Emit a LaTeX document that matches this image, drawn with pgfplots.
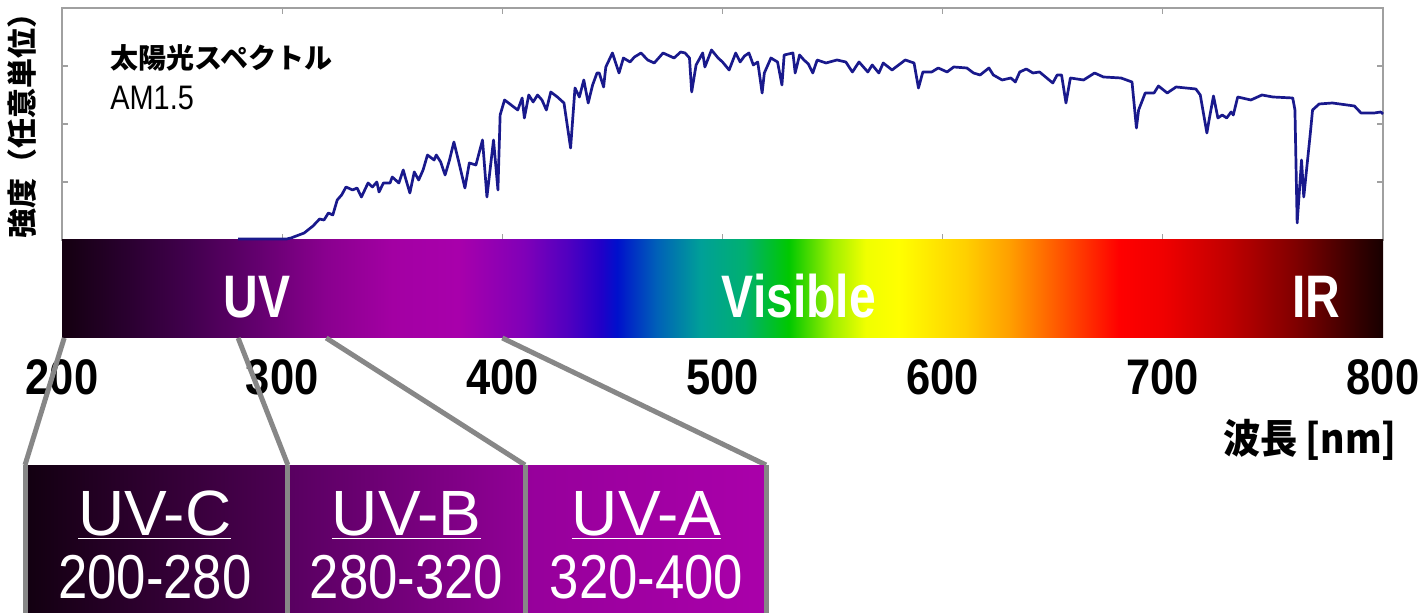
\documentclass[border=0pt]{standalone}
\usepackage{fontspec}
\setmainfont{Liberation Sans}
\newfontfamily\jp{Noto Sans CJK JP}
\usepackage{pgfplots}
\pgfplotsset{compat=1.18}

\definecolor{specline}{RGB}{25,25,140}
\definecolor{framegray}{RGB}{160,160,160}
\definecolor{linkgray}{RGB}{135,135,135}

\pgfdeclarehorizontalshading{spectrum}{100bp}{
 rgb(0bp)=(0.078,0,0.063);
 rgb(25bp)=(0.078,0,0.063);
 rgb(27.5bp)=(0.165,0,0.188);
 rgb(30bp)=(0.267,0,0.314);
 rgb(32.5bp)=(0.396,0,0.439);
 rgb(35bp)=(0.541,0,0.561);
 rgb(37.5bp)=(0.639,0,0.639);
 rgb(40bp)=(0.659,0,0.671);
 rgb(42.5bp)=(0.502,0,0.722);
 rgb(44.1667bp)=(0.314,0,0.753);
 rgb(45.4167bp)=(0.125,0,0.784);
 rgb(46bp)=(0,0.063,0.8);
 rgb(47.5bp)=(0,0.376,0.722);
 rgb(49.1667bp)=(0,0.627,0.596);
 rgb(50.8333bp)=(0,0.69,0.439);
 rgb(52.5bp)=(0,0.784,0);
 rgb(54.1667bp)=(0.627,0.941,0);
 rgb(55.4167bp)=(0.941,1,0);
 rgb(56.6667bp)=(1,1,0);
 rgb(59.1667bp)=(1,0.816,0);
 rgb(60.8333bp)=(1,0.627,0);
 rgb(62.5bp)=(1,0.376,0);
 rgb(64.1667bp)=(1,0.125,0);
 rgb(65bp)=(1,0,0);
 rgb(66.6667bp)=(0.941,0,0);
 rgb(69.1667bp)=(0.753,0,0);
 rgb(71.6667bp)=(0.502,0,0);
 rgb(74.1667bp)=(0.188,0,0);
 rgb(75bp)=(0.094,0,0);
 rgb(100bp)=(0.094,0,0)}

\begin{document}
\begin{tikzpicture}[x=0.5pt,y=0.5pt]
\path[use as bounding box] (0,0) rectangle (1427,613);
\begin{axis}[
  at={(31pt,186.5pt)}, anchor=south west,
  scale only axis, width=660.5pt, height=116pt,
  xmin=200, xmax=800, ymin=0, ymax=232,
  clip=false,
  axis line style={framegray, line width=1pt},
  tick align=inside,
  xtick={200,300,400,500,600,700,800},
  xticklabels={200,300,400,500,600,700,800},
  ytick={58,116,174}, yticklabels={},
  major tick length=3pt,
  tick style={framegray, line width=0.6pt},
  xticklabel style={font=\fontsize{25}{25}\selectfont\bfseries, anchor=center, yshift=-68.5pt, xscale=0.87},
  xlabel={\jp\bfseries 波長 [nm]},
  xlabel style={at={(rel axis cs:0.9447,-0.862)}, anchor=center, font=\fontsize{20}{20}\selectfont, xscale=0.93},
  ylabel={\jp\bfseries 強度（任意単位）},
  ylabel style={at={(rel axis cs:-0.0303,0.525)}, anchor=center, font=\fontsize{15}{15}\selectfont},
]
% colour bar
\shade[shading=spectrum] (axis cs:200,0) rectangle (axis cs:800,-98);
\node[white, anchor=base, font=\fontsize{30}{30}\selectfont\bfseries, xscale=0.8] at (axis cs:288.6,-78) {UV};
\node[white, anchor=base, font=\fontsize{30}{30}\selectfont\bfseries, xscale=0.8] at (axis cs:534.7,-78) {Visible};
\node[white, anchor=base, font=\fontsize{30}{30}\selectfont\bfseries, xscale=0.8] at (axis cs:769.6,-78) {IR};

% connector lines
\draw[linkgray, line width=2.5pt] (axis cs:201,-98) -- (axis cs:183.2,-225);
\draw[linkgray, line width=2.5pt] (axis cs:280,-98) -- (axis cs:302.6,-225);
\draw[linkgray, line width=2.5pt] (axis cs:320,-98) -- (axis cs:410.3,-225);
\draw[linkgray, line width=2.5pt] (axis cs:400,-98) -- (axis cs:519.8,-225);

% UV sub boxes
\shade[left color={rgb,255:red,18;green,0;blue,16}, right color={rgb,255:red,78;green,0;blue,84}] (axis cs:183.2,-225) rectangle (axis cs:302.6,-380);
\shade[left color={rgb,255:red,88;green,0;blue,96}, right color={rgb,255:red,145;green,0;blue,150}] (axis cs:302.6,-225) rectangle (axis cs:410.3,-380);
\shade[left color={rgb,255:red,150;green,0;blue,155}, right color={rgb,255:red,170;green,0;blue,170}] (axis cs:410.3,-225) rectangle (axis cs:519.8,-380);
\draw[linkgray, line width=2.5pt] (axis cs:183.2,-225) -- (axis cs:183.2,-380);
\draw[linkgray, line width=2.5pt] (axis cs:302.6,-225) -- (axis cs:302.6,-380);
\draw[linkgray, line width=2.5pt] (axis cs:410.3,-225) -- (axis cs:410.3,-380);
\draw[linkgray, line width=2.5pt] (axis cs:519.8,-225) -- (axis cs:519.8,-380);
\node[white, anchor=base, font=\fontsize{32}{32}\selectfont] at (axis cs:242.2,-295) {\underline{UV-C}};
\node[white, anchor=base, font=\fontsize{32}{32}\selectfont] at (axis cs:356.5,-295) {\underline{UV-B}};
\node[white, anchor=base, font=\fontsize{32}{32}\selectfont] at (axis cs:465.5,-295) {\underline{UV-A}};
\node[white, anchor=base, font=\fontsize{31}{31}\selectfont, xscale=0.85] at (axis cs:242.2,-358) {200-280};
\node[white, anchor=base, font=\fontsize{31}{31}\selectfont, xscale=0.85] at (axis cs:356.5,-358) {280-320};
\node[white, anchor=base, font=\fontsize{31}{31}\selectfont, xscale=0.85] at (axis cs:465.5,-358) {320-400};

% title
\node[anchor=west, inner sep=0pt, font=\fontsize{14}{14}\selectfont\jp\bfseries] at (axis cs:221.8,182) {太陽光スペクトル};
\node[anchor=west, inner sep=0pt, font=\fontsize{17}{17}\selectfont, xscale=0.85] at (axis cs:221.8,142) {AM1.5};

\addplot[specline, line width=1.35pt, line join=round] coordinates {
(280,1) (300,1) (302,1) (304,2) (310,7) (314,14) (317,21) (319,20) (321,27) (323,25) (325,40) (327,45) (329,53) (332,50) (334,52) (336,43) (339,57) (341,53) (343,58) (344,48) (346,57) (349,57) (350,63) (353,57) (355,70) (356,62) (358,47) (360,68) (362,60) (364,70) (366,85) (369,80) (370,85) (372,78) (374,65) (376,80) (378,98) (380,80) (383,52) (385,77) (388,75) (391,100) (393,43) (396,100) (398,50) (399,125) (401,140) (404,135) (407,130) (409,142) (410,122) (412,145) (414,138) (416,145) (418,140) (420,130) (422,148) (425,143) (428,137) (431,92) (433,152) (435,143) (437,160) (439,137) (441,155) (443,167) (444,167) (446,153) (447,173) (450,187) (453,167) (455,182) (458,178) (460,183) (463,187) (466,180) (469,177) (473,187) (475,185) (478,182) (481,188) (483,187) (485,182) (486,148) (488,175) (491,187) (492,173) (495,190) (498,182) (500,178) (503,170) (506,187) (508,178) (510,184) (512,187) (514,175) (516,178) (518,147) (519,167) (522,182) (525,178) (527,155) (528,185) (532,187) (533,167) (535,185) (537,180) (539,176) (541,167) (543,180) (547,177) (552,180) (556,178) (559,168) (562,178) (566,168) (568,175) (571,167) (573,177) (577,170) (583,180) (587,177) (589,152) (591,168) (595,168) (598,172) (602,168) (605,173) (611,172) (614,167) (617,165) (621,172) (623,165) (627,160) (631,162) (633,158) (635,168) (638,171) (641,167) (644,168) (650,157) (652,165) (654,165) (656,137) (658,162) (664,160) (669,167) (673,163) (681,162) (686,158) (688,112) (689,130) (692,147) (696,147) (698,154) (702,147) (706,153) (715,151) (717,145) (720,107) (721,120) (723,144) (725,122) (727,125) (729,122) (731,128) (732,125) (734,143) (740,140) (745,145) (750,143) (759,142) (760,130) (761,17) (763,80) (764,43) (767,107) (768,130) (771,136) (777,137) (787,134) (790,127) (796,127) (799,128) (800,126)
};
\end{axis}
\end{tikzpicture}
\end{document}
